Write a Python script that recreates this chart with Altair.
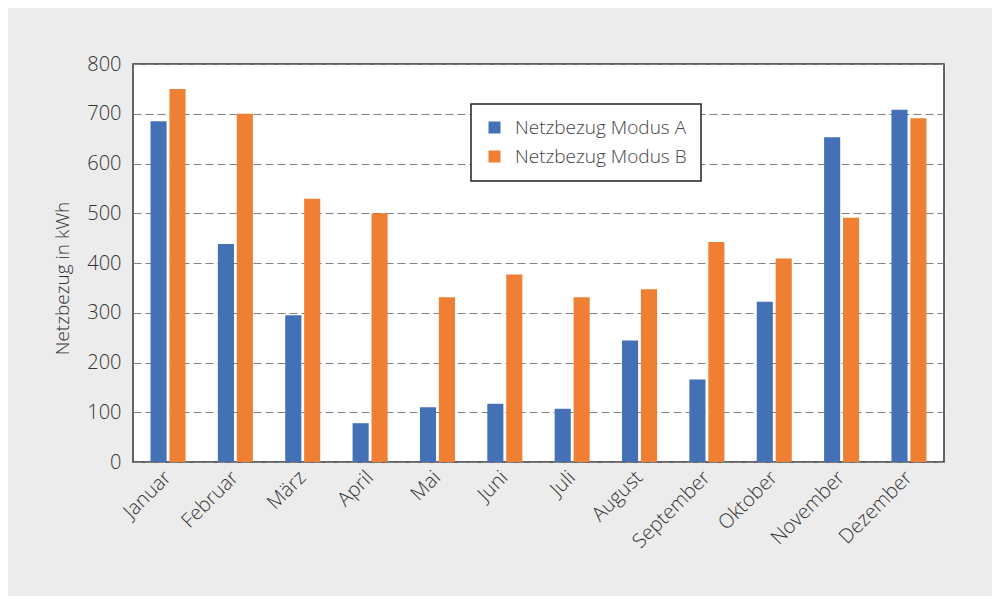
import altair as alt
import pandas as pd

months = ["Januar", "Februar", "März", "April", "Mai", "Juni", "Juli",
          "August", "September", "Oktober", "November", "Dezember"]
series = ["Netzbezug Modus A", "Netzbezug Modus B"]
values_a = [685, 438, 295, 78, 110, 117, 107, 244, 166, 322, 653, 708]
values_b = [750, 700, 529, 500, 331, 377, 331, 347, 442, 409, 491, 691]
y_ticks = [0, 100, 200, 300, 400, 500, 600, 700, 800]

rows = []
for m, a, b in zip(months, values_a, values_b):
    rows.append({"Monat": m, "Serie": series[0], "Wert": a})
    rows.append({"Monat": m, "Serie": series[1], "Wert": b})
df = pd.DataFrame(rows)

FONT = "Open Sans"

chart = alt.Chart(df).mark_bar().encode(
    x=alt.X("Monat:N", sort=months,
            scale=alt.Scale(paddingInner=0.48, paddingOuter=0.26),
            axis=alt.Axis(title=None, labelAngle=-45, labelAlign="right",
                          labelBaseline="middle", labelPadding=12,
                          labelFontSize=20, labelColor="#333333",
                          labelFont=FONT, labelFontWeight=300,
                          ticks=False, domain=False, grid=False)),
    xOffset=alt.XOffset("Serie:N", sort=series,
                        scale=alt.Scale(paddingInner=0.15)),
    y=alt.Y("Wert:Q", scale=alt.Scale(domain=[0, 800], nice=False),
            axis=alt.Axis(title="Netzbezug in kWh", values=y_ticks,
                          labelFontSize=20, labelColor="#333333",
                          labelFont=FONT, labelFontWeight=300,
                          labelPadding=12, ticks=False, domain=False,
                          titleFont=FONT, titleFontSize=19,
                          titleFontWeight=300, titleColor="#333333",
                          titlePadding=14, titleY=214,
                          grid=True, gridColor="#808080",
                          gridDash=[8, 4], gridWidth=1)),
    color=alt.Color("Serie:N", sort=series,
                    scale=alt.Scale(domain=series, range=["#4470b6", "#ee7f33"]),
                    legend=alt.Legend(title=None, orient="none",
                                      legendX=338, legendY=40,
                                      direction="vertical",
                                      fillColor="white", strokeColor="#222222",
                                      padding=14,
                                      symbolType="square", symbolSize=144,
                                      symbolStrokeWidth=0,
                                      labelFontSize=19, labelColor="#444444",
                                      labelFont=FONT, labelFontWeight=300,
                                      labelOffset=11, labelLimit=400)),
).properties(
    width=811,
    height=398,
    background="#ececec",
    padding={"left": 125, "top": 56, "right": 48, "bottom": 134},
    autosize=alt.AutoSizeParams(type="none"),
).configure_view(
    fill="white", stroke="#333333", strokeWidth=1.5
).configure_legend(
    rowPadding=9, strokeWidth=1.5
)

chart.save("out.html", embed_options={"renderer": "svg", "actions": False})
